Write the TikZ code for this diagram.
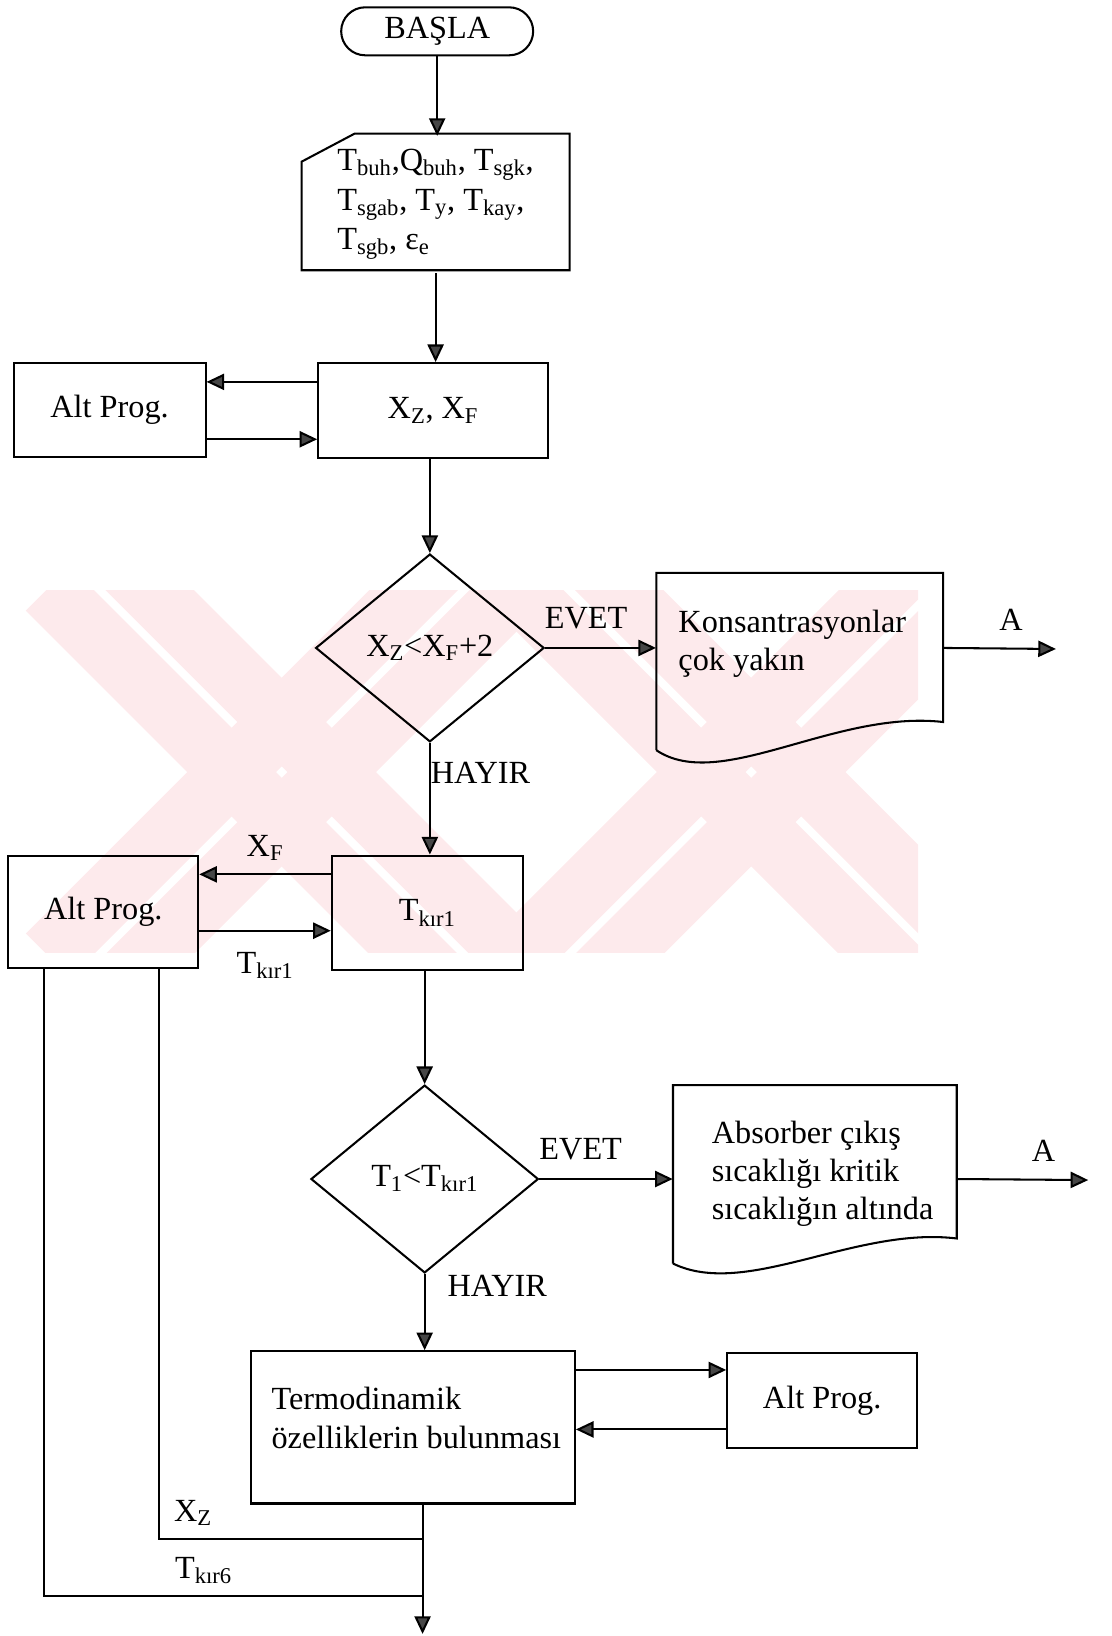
\documentclass[tikz,border=0pt]{standalone}
\usepackage{fontspec}
\setmainfont{Liberation Serif}
\usetikzlibrary{arrows.meta,shapes.geometric,calc}
\definecolor{wmpink}{RGB}{253,234,236}
\definecolor{tipgray}{RGB}{70,70,70}

\tikzset{
  flow/.style={draw, line width=1.4pt},
  pbox/.style 2 args={flow, rectangle, minimum width=#1*0.025cm, minimum height=#2*0.025cm},
  area/.style 2 args={rectangle, minimum width=#1*0.025cm, minimum height=#2*0.025cm},
  decis/.style 2 args={flow, diamond, minimum width=#1*0.025cm, minimum height=#2*0.025cm},
  arr/.style={line width=1.4pt, -{Triangle[length=12pt,width=11pt,fill=tipgray]}},
  wm/.style={wmpink, line width=1.5cm, line cap=butt},
}

\begin{document}
\begin{tikzpicture}[x=0.025cm, y=-0.025cm,
  every node/.style={font=\fontsize{22}{26}\selectfont, inner sep=0pt}]
\useasboundingbox (0,0) rectangle (1065,1568);

% faint background logo
\begin{scope}
  \clip (0,566) rectangle (880,913);
  \foreach \dx in {0,450} {
    \begin{scope}[shift={(\dx,0)}]
      \draw[wm] (94,516) -- (494,916);
      \draw[wm] (46,564) -- (446,964);
      \draw[wm] (94,964) -- (494,564);
      \draw[wm] (46,916) -- (446,516);
    \end{scope}
  }
\end{scope}

% start
\node[flow, rectangle, rounded corners=23*0.025cm, minimum width=184*0.025cm,
      minimum height=46*0.025cm] (start) at (419,30) {\raisebox{-3pt}{BAŞLA}};

% manual input
\node[area={257}{131}, align=left, font=\fontsize{22}{27}\selectfont] (inp) at (417.5,196)
  {T\textsubscript{buh},Q\textsubscript{buh}, T\textsubscript{sgk},\\
   T\textsubscript{sgab}, T\textsubscript{y}, T\textsubscript{kay},\\
   T\textsubscript{sgb}, ε\textsubscript{e}};
\draw[flow] (340,128) -- (546,128) -- (546,259) -- (289,259) -- (289,155) -- cycle;

% concentrations
\node[pbox={220}{91}] (xbox) at (415,393.5) {\raisebox{-4pt}{X\textsubscript{Z}, X\textsubscript{F}}};
\node[pbox={184}{90}] (alt1) at (105,393) {Alt Prog.};

\node[decis={219}{180}] (d1) at (412,621) {X\textsubscript{Z}<X\textsubscript{F}+2};

\node[area={275}{171}] (doc1) at (766.5,634.5) {};
\draw[flow] (629,719) -- (629,549) -- (904,549) -- (904,692)
  .. controls (800,680) and (690,760) .. (629,719);
\node[anchor=west, align=left] (doc1t) at (650,617) {Konsantrasyonlar\\çok yakın};

% critical temperature
\node[pbox={183}{110}] (tk1) at (409.5,875) {\raisebox{-3pt}{T\textsubscript{kır1}}};
\node[pbox={182}{108}] (alt2) at (99,874) {Alt Prog.};

\node[decis={218}{180}] (d2) at (407,1130) {\raisebox{4pt}{T\textsubscript{1}<T\textsubscript{kır1}}};

\node[area={272}{171}] (doc2) at (781,1125.5) {};
\draw[flow] (645,1211) -- (645,1040) -- (917,1040) -- (917,1187)
  .. controls (820,1175) and (715,1245) .. (645,1211);
\node[anchor=west, align=left] (doc2t) at (682,1125)
  {Absorber çıkış\\sıcaklığı kritik\\sıcaklığın altında};

% thermodynamic properties
\node[pbox={310}{146}] (termo) at (396,1368) {};
\node[anchor=west, align=left] (termot) at (260,1359) {Termodinamik\\özelliklerin bulunması};
\node[pbox={182}{91}] (alt3) at (788,1342.5) {Alt Prog.};

% helper points on the box sides
\path (xbox.west) ++(0,-27.5) coordinate (xa)
      (xbox.west) ++(0,27.5)  coordinate (xb)
      (tk1.west)  ++(0,-37)   coordinate (ta)
      (tk1.west)  ++(0,17)    coordinate (tb)
      (termo.east) ++(0,-55)  coordinate (ma)
      (termo.east) ++(0,2)    coordinate (mb)
      (termo.south) ++(9,0)   coordinate (tbot)
      (alt2.south) ++(53,0)   coordinate (fz)
      (alt2.south) ++(-57,0)  coordinate (fk);
\coordinate (A1) at (1012,622);
\coordinate (A2) at (1043,1131);
\coordinate (jz) at (405,1475);
\coordinate (jk) at (405,1530);
\coordinate (out) at (405,1566);

% connectors
\draw[arr] (start.south) -- (start.south |- inp.north);
\draw[arr] (inp.south) -- (inp.south |- xbox.north);
\draw[arr] (xa) -- (xa -| alt1.east);
\draw[arr] (xb -| alt1.east) -- (xb);
\draw[arr] (d1.north |- xbox.south) -- (d1.north);

\draw[arr] (d1.east) -- (d1.east -| doc1.west)
  node[pos=0.37, above=0.42cm] (ev1) {EVET};
\draw[arr] (d1.east -| doc1.east) -- (A1)
  node[pos=0.6, above=0.42cm] (a1l) {A};
\draw[arr] (d1.south) -- (d1.south |- tk1.north)
  node[pos=0.27, anchor=west] (h1) {HAYIR};

\draw[arr] (ta) -- (ta -| alt2.east)
  node[midway, above=0.3cm] (xfl) {X\textsubscript{F}};
\draw[arr] (tb -| alt2.east) -- (tb)
  node[midway, below=0.5cm] (tkl) {T\textsubscript{kır1}};
\draw[arr] (d2.north |- tk1.south) -- (d2.north);

\draw[arr] (d2.east) -- (d2.east -| doc2.west)
  node[pos=0.31, above=0.42cm] (ev2) {EVET};
\draw[arr] (d2.east -| doc2.east) -- (A2)
  node[pos=0.66, above=0.42cm] (a2l) {A};
\draw[arr] (d2.south) -- (d2.south |- termo.north)
  node[pos=0.16, anchor=west, xshift=21*0.025cm] (h2) {HAYIR};

\draw[arr] (ma) -- (ma -| alt3.west);
\draw[arr] (mb -| alt3.west) -- (mb);

\draw[flow] (fz) |- (jz);
\draw[flow] (fk) |- (jk);
\draw[arr] (tbot) -- (out);
\node (xzl) at (185,1450) {X\textsubscript{Z}};
\node (tk6l) at (195,1505) {T\textsubscript{kır6}};
\end{tikzpicture}
\end{document}
